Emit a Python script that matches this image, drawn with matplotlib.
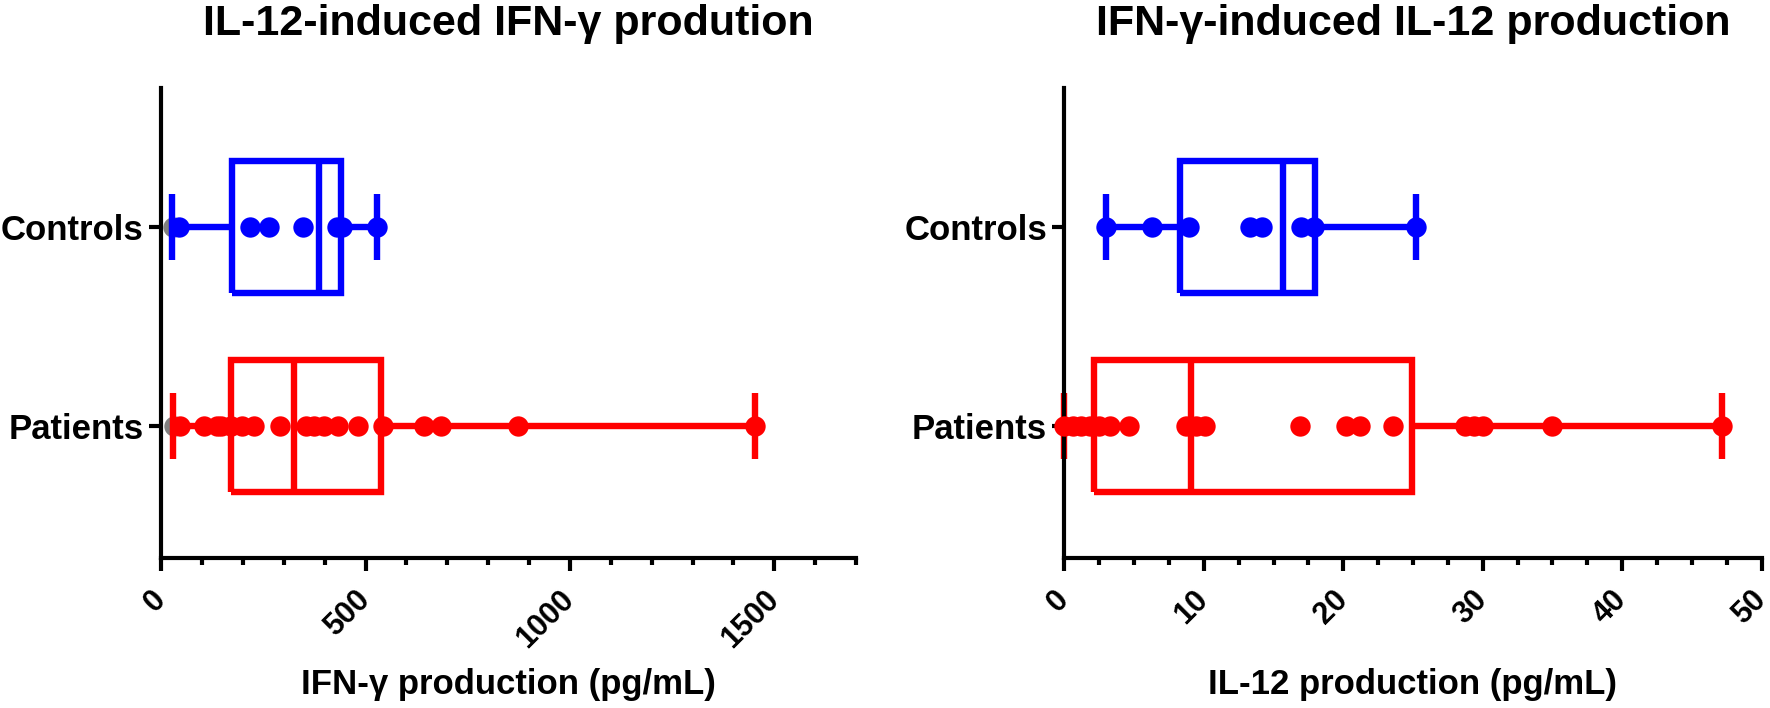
import numpy as np
import matplotlib
matplotlib.use("Agg")
from matplotlib import pyplot as plt
from matplotlib.ticker import MultipleLocator

plt.rcParams['font.family'] = ['Liberation Sans', 'DejaVu Sans']
plt.rcParams['font.weight'] = 'bold'

groups = ["Patients", "Controls"]

# IL-12-induced IFN-g production (pg/mL)
ifn_ctrl = [45, 217, 263, 348, 430, 443, 529]
ifn_pat = [47, 104, 137, 147, 171, 199, 228, 290, 355, 375, 399, 433, 482, 542,
           644, 685, 874, 1453]
ifn_ctrl_grey = [29]
ifn_pat_grey = [31]
# whisker low, q1, median, q3, whisker high
ifn_ctrl_box = [27, 174, 387, 441, 529]
ifn_pat_box = [30, 170, 324, 539, 1453]

# IFN-g-induced IL-12 production (pg/mL)
il12_ctrl = [3.0, 6.3, 8.9, 13.3, 14.2, 17.0, 17.9, 25.2]
il12_pat = [0.0, 0.6, 1.2, 1.8, 2.5, 3.3, 4.6, 8.7, 9.4, 10.1, 16.9, 20.2, 21.2,
            23.6, 28.7, 29.4, 30.0, 35.0, 47.2]
il12_ctrl_box = [3.0, 8.3, 15.65, 18.0, 25.2]
il12_pat_box = [0.0, 2.15, 9.1, 24.9, 47.2]

BLUE = '#0000ff'
RED = '#ff0000'
GREY = '#808080'


def stats(b):
    return dict(whislo=b[0], q1=b[1], med=b[2], q3=b[3], whishi=b[4])


def panel(ax, ctrl, pat, ctrl_box, pat_box, ctrl_grey, pat_grey, title, xlabel,
          xmax, major, minor):
    lw = 4.6
    for pos, box, col in [(1, ctrl_box, BLUE), (0, pat_box, RED)]:
        props = dict(color=col, linewidth=lw, solid_joinstyle='miter',
                     solid_capstyle='butt', zorder=2, clip_on=False)
        ax.bxp([stats(box)], positions=[pos], widths=0.665, capwidths=0.33,
               orientation='horizontal', showfliers=False, manage_ticks=False,
               boxprops=props, whiskerprops=props, capprops=props,
               medianprops=props)
    ms = 215
    ax.scatter(ctrl_grey, [1] * len(ctrl_grey), s=ms, color=GREY, zorder=1,
               clip_on=False, linewidths=0)
    ax.scatter(pat_grey, [0] * len(pat_grey), s=ms, color=GREY, zorder=1,
               clip_on=False, linewidths=0)
    ax.scatter(ctrl, [1] * len(ctrl), s=ms, color=BLUE, zorder=3,
               clip_on=False, linewidths=0)
    ax.scatter(pat, [0] * len(pat), s=ms, color=RED, zorder=3,
               clip_on=False, linewidths=0)

    ax.set_xlim(0, xmax)
    ax.set_ylim(-0.665, 1.70)
    ax.set_yticks([0, 1], groups, fontsize=25, fontweight='bold')
    ax.xaxis.set_major_locator(MultipleLocator(major))
    ax.xaxis.set_minor_locator(MultipleLocator(minor))
    for lab in ax.get_xticklabels():
        lab.set_rotation(45)
        lab.set_ha('right')
        lab.set_va('center')
        lab.set_rotation_mode('anchor')
        lab.set_fontsize(22)
        lab.set_fontweight('bold')
    ax.tick_params(axis='x', which='major', length=9, width=3, pad=18)
    ax.tick_params(axis='x', which='minor', length=5, width=3)
    ax.tick_params(axis='y', length=8.5, width=3, pad=4)
    for s in ['top', 'right']:
        ax.spines[s].set_visible(False)
    for s in ['left', 'bottom']:
        ax.spines[s].set_linewidth(3)
    ax.set_xlabel(xlabel, fontsize=25, fontweight='bold', va='center')
    ax.xaxis.set_label_coords(0.5, -0.27)
    ax.text(0.5, 1.113, title, transform=ax.transAxes, ha='center',
            va='baseline', fontsize=31, fontweight='bold')


fig = plt.figure(figsize=(17.7, 7.08), dpi=100)
ax1 = fig.add_axes([0.091, 0.212, 0.3927, 0.664])
ax2 = fig.add_axes([0.6014, 0.212, 0.3938, 0.664])

panel(ax1, ifn_ctrl, ifn_pat, ifn_ctrl_box, ifn_pat_box, ifn_ctrl_grey,
      ifn_pat_grey, 'IL-12-induced IFN-γ prodution', 'IFN-γ production (pg/mL)',
      1700, 500, 100)
panel(ax2, il12_ctrl, il12_pat, il12_ctrl_box, il12_pat_box, [], [],
      'IFN-γ-induced IL-12 production', 'IL-12 production (pg/mL)',
      50, 10, 2.5)

fig.savefig('out.png', dpi=100)
